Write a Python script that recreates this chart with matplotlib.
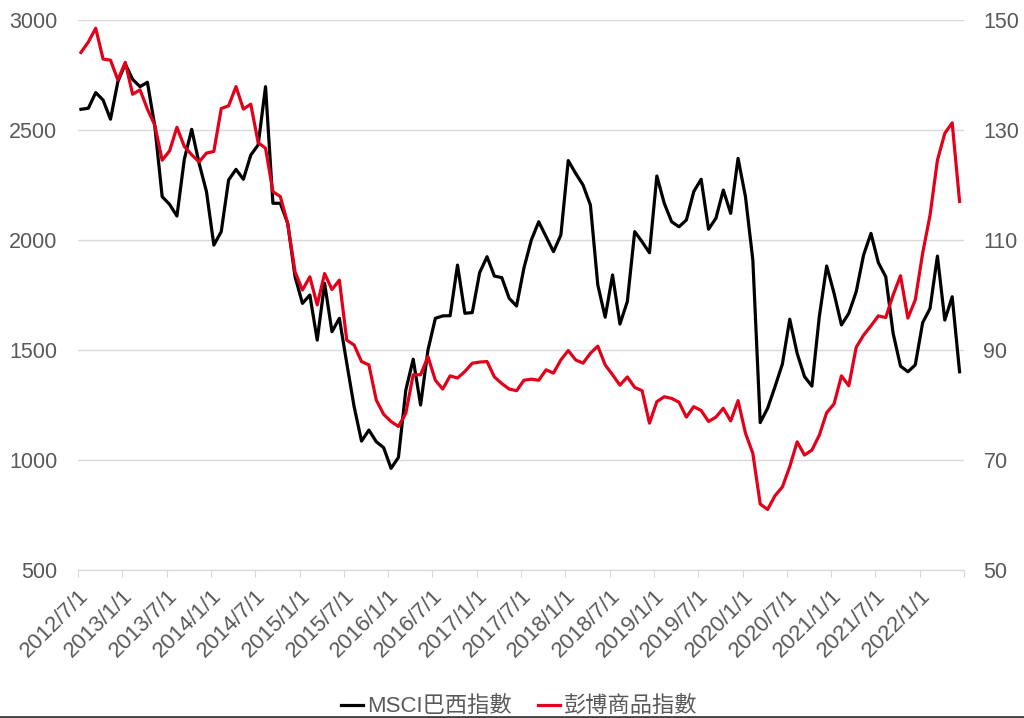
import matplotlib.pyplot as plt
from matplotlib.lines import Line2D
import numpy as np

plt.rcParams['font.family'] = ['Liberation Sans', 'Noto Sans CJK TC', 'DejaVu Sans']

# monthly values, 2012/7 .. 2022/6
msci_brazil = [2594, 2599, 2670, 2636, 2549, 2720, 2800, 2730, 2697, 2717,
               2518, 2197, 2162, 2109, 2367, 2503, 2349, 2220, 1977, 2038,
               2273, 2321, 2276, 2386, 2432, 2697, 2167, 2167, 2076, 1833,
               1712, 1750, 1545, 1803, 1583, 1644, 1440, 1242, 1086, 1136,
               1083, 1056, 962, 1012, 1318, 1458, 1250, 1500, 1644, 1655,
               1656, 1886, 1667, 1670, 1852, 1924, 1836, 1829, 1735, 1700,
               1873, 2000, 2083, 2015, 1947, 2023, 2361, 2303, 2250, 2159,
               1796, 1649, 1841, 1618, 1720, 2038, 1992, 1942, 2291, 2167,
               2083, 2060, 2091, 2220, 2276, 2049, 2099, 2227, 2121, 2371,
               2197, 1909, 1170, 1235, 1333, 1436, 1640, 1485, 1379, 1336,
               1651, 1882, 1758, 1614, 1667, 1765, 1932, 2030, 1897, 1833,
               1576, 1427, 1401, 1432, 1624, 1689, 1927, 1636, 1742, 1401]

bloomberg_cmdty = [144.1, 146.0, 148.5, 142.9, 142.7, 139.1, 142.3, 136.5, 137.3, 133.8,
                   130.9, 124.5, 126.2, 130.5, 127.0, 125.5, 124.2, 125.8, 126.1, 133.9,
                   134.4, 137.9, 133.8, 134.7, 127.7, 126.7, 118.8, 117.9, 113.0, 104.2,
                   100.9, 103.3, 98.2, 103.9, 101.0, 102.7, 91.8, 90.9, 87.9, 87.3,
                   80.9, 78.3, 77.0, 76.1, 78.5, 85.5, 85.5, 88.8, 84.5, 82.9,
                   85.3, 84.9, 86.1, 87.6, 87.8, 87.9, 85.1, 83.9, 82.9, 82.6,
                   84.5, 84.7, 84.5, 86.4, 85.8, 88.2, 89.9, 88.2, 87.6, 89.4,
                   90.7, 87.3, 85.5, 83.6, 85.1, 83.2, 82.6, 76.7, 80.6, 81.5,
                   81.2, 80.5, 77.8, 79.7, 79.0, 77.0, 77.8, 79.4, 77.1, 80.8,
                   74.9, 71.2, 62.0, 61.0, 63.5, 65.1, 68.8, 73.3, 70.9, 71.8,
                   74.5, 78.6, 80.2, 85.3, 83.5, 90.5, 92.7, 94.4, 96.2, 95.9,
                   100.0, 103.5, 95.8, 99.1, 107.6, 114.5, 124.5, 129.4, 131.3, 117.0]

tick_months = list(range(0, 121, 6))
tick_labels = []
for m in tick_months[:-1]:
    k = 6 + m
    tick_labels.append('%d/%d/1' % (2012 + k // 12, k % 12 + 1))
tick_labels.append('')

x = np.arange(len(msci_brazil)) + 0.4

fig = plt.figure(figsize=(10.24, 7.18), dpi=100)
ax = fig.add_axes([78/1024, 1 - 570/718, (964-78)/1024, 550/718])
ax2 = ax.twinx()

l1, = ax.plot(x, msci_brazil, color='black', lw=2.3, label='MSCI巴西指數')
l2, = ax2.plot(x, bloomberg_cmdty, color='#E2001A', lw=2.3, label='彭博商品指數')

ax.set_xlim(0, 120)
ax.set_ylim(500, 3000)
ax.set_yticks(range(500, 3001, 500))
ax2.set_ylim(50, 150)
ax2.set_yticks(range(50, 151, 20))

ax.grid(axis='y', color='#d9d9d9', lw=1)
ax.set_axisbelow(True)
for a in (ax, ax2):
    for s in ['top', 'left', 'right']:
        a.spines[s].set_visible(False)
    a.spines['bottom'].set_color('#d9d9d9')

ax.set_xticks(tick_months)
ax.set_xticklabels(tick_labels, rotation=45, ha='right', va='top',
                   rotation_mode='anchor', fontsize=16, color='#595959')
ax.tick_params(axis='x', length=5, color='#d9d9d9', pad=6)
ax.tick_params(axis='y', length=0, pad=15, labelsize=15.5, labelcolor='#595959')
ax2.tick_params(axis='y', length=0, pad=14, labelsize=15.5, labelcolor='#595959')

fig.legend(handles=[l1, l2], loc='lower center', bbox_to_anchor=(0.507, -0.027),
           ncol=2, frameon=False, fontsize=16, handlelength=1.0,
           handletextpad=0.15, columnspacing=1.2, labelcolor='#595959')

fig.add_artist(Line2D([0, 1], [0.002, 0.002], color='#404040', lw=2))

plt.savefig('out.png', dpi=100)
